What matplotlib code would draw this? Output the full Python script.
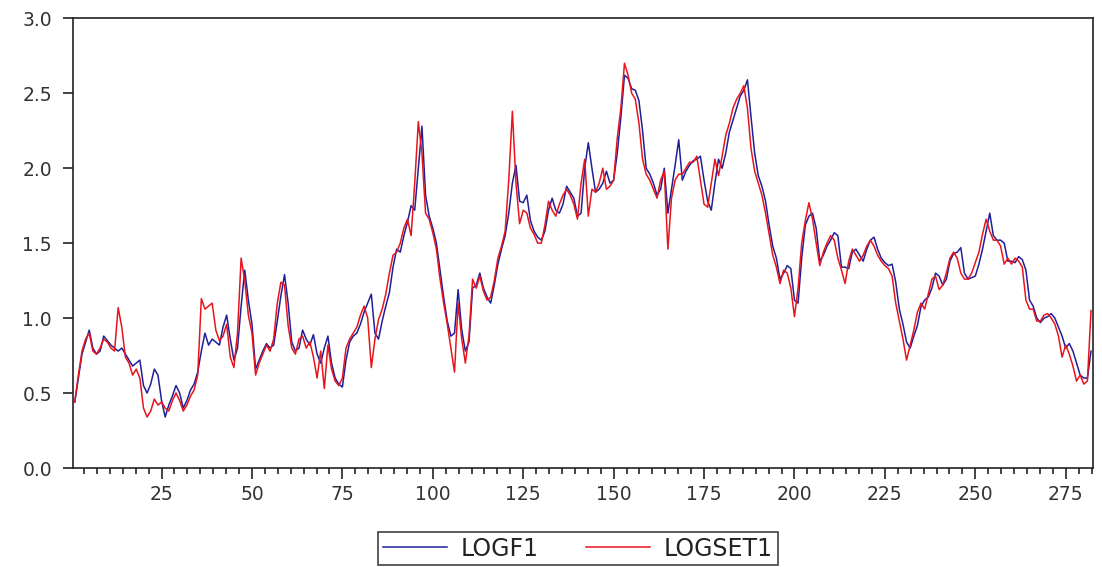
import matplotlib
matplotlib.use("Agg")
import matplotlib.pyplot as plt
from matplotlib.ticker import MultipleLocator, FixedLocator
import numpy as np

# ---- data ----
logf1 = [
    0.44, 0.60, 0.76, 0.84, 0.92, 0.80, 0.76, 0.78, 0.88, 0.85,
    0.82, 0.80, 0.78, 0.80, 0.76, 0.72, 0.68, 0.70, 0.72, 0.55,
    0.50, 0.56, 0.66, 0.62, 0.45, 0.34, 0.42, 0.48, 0.55, 0.50,
    0.40, 0.45, 0.52, 0.56, 0.64, 0.78, 0.90, 0.82, 0.86, 0.84,
    0.82, 0.94, 1.02, 0.86, 0.72, 0.80, 1.08, 1.32, 1.12, 0.96,
    0.66, 0.72, 0.78, 0.83, 0.80, 0.82, 0.98, 1.15, 1.29, 1.10,
    0.84, 0.78, 0.80, 0.92, 0.86, 0.82, 0.89, 0.76, 0.70, 0.80,
    0.88, 0.70, 0.60, 0.56, 0.54, 0.72, 0.84, 0.88, 0.90, 0.96,
    1.04, 1.10, 1.16, 0.90, 0.86, 0.98, 1.08, 1.17, 1.34, 1.46,
    1.44, 1.55, 1.64, 1.75, 1.72, 2.00, 2.28, 1.82, 1.68, 1.60,
    1.50, 1.32, 1.14, 0.98, 0.88, 0.90, 1.19, 0.92, 0.78, 0.84,
    1.20, 1.22, 1.30, 1.20, 1.14, 1.10, 1.22, 1.36, 1.46, 1.55,
    1.70, 1.90, 2.02, 1.78, 1.77, 1.82, 1.65, 1.58, 1.54, 1.52,
    1.58, 1.72, 1.80, 1.72, 1.70, 1.76, 1.88, 1.84, 1.80, 1.68,
    1.70, 2.00, 2.17, 2.00, 1.84, 1.86, 1.90, 1.98, 1.90, 1.92,
    2.10, 2.34, 2.62, 2.60, 2.53, 2.52, 2.45, 2.25, 2.00, 1.96,
    1.90, 1.82, 1.86, 2.00, 1.70, 1.86, 2.02, 2.19, 1.92, 1.98,
    2.02, 2.05, 2.06, 2.08, 1.92, 1.78, 1.72, 1.90, 2.06, 2.00,
    2.10, 2.24, 2.32, 2.40, 2.48, 2.52, 2.59, 2.34, 2.10, 1.95,
    1.88, 1.78, 1.62, 1.48, 1.40, 1.26, 1.30, 1.35, 1.33, 1.12,
    1.10, 1.40, 1.62, 1.68, 1.70, 1.60, 1.38, 1.42, 1.48, 1.52,
    1.57, 1.55, 1.34, 1.34, 1.33, 1.44, 1.46, 1.42, 1.38, 1.46,
    1.52, 1.54, 1.46, 1.40, 1.37, 1.35, 1.36, 1.24, 1.06, 0.96,
    0.84, 0.80, 0.88, 0.95, 1.08, 1.12, 1.14, 1.20, 1.30, 1.28,
    1.22, 1.26, 1.38, 1.43, 1.44, 1.47, 1.30, 1.26, 1.27, 1.28,
    1.36, 1.46, 1.58, 1.70, 1.55, 1.52, 1.52, 1.50, 1.38, 1.38,
    1.37, 1.41, 1.39, 1.32, 1.12, 1.08, 1.00, 0.97, 1.00, 1.01,
    1.03, 1.00, 0.94, 0.88, 0.80, 0.83, 0.78, 0.70, 0.62, 0.60,
    0.60, 0.78,
]
logset1 = [
    0.44, 0.62, 0.78, 0.86, 0.90, 0.78, 0.76, 0.80, 0.86, 0.84,
    0.80, 0.78, 1.07, 0.94, 0.74, 0.70, 0.62, 0.66, 0.60, 0.40,
    0.34, 0.38, 0.46, 0.42, 0.44, 0.40, 0.38, 0.45, 0.50, 0.45,
    0.38, 0.42, 0.48, 0.52, 0.62, 1.13, 1.06, 1.08, 1.10, 0.92,
    0.85, 0.88, 0.96, 0.74, 0.67, 0.90, 1.40, 1.25, 1.02, 0.90,
    0.62, 0.70, 0.76, 0.82, 0.78, 0.86, 1.10, 1.24, 1.22, 0.95,
    0.80, 0.76, 0.86, 0.88, 0.80, 0.84, 0.74, 0.60, 0.78, 0.53,
    0.82, 0.66, 0.58, 0.55, 0.60, 0.80, 0.86, 0.90, 0.94, 1.02,
    1.08, 1.00, 0.67, 0.86, 0.99, 1.06, 1.16, 1.30, 1.42, 1.44,
    1.50, 1.60, 1.66, 1.55, 1.90, 2.31, 2.10, 1.70, 1.66, 1.57,
    1.46, 1.26, 1.10, 0.96, 0.80, 0.64, 1.10, 0.86, 0.70, 0.88,
    1.26, 1.20, 1.28, 1.18, 1.12, 1.14, 1.25, 1.40, 1.48, 1.58,
    1.92, 2.38, 1.90, 1.63, 1.72, 1.70, 1.60, 1.56, 1.50, 1.50,
    1.62, 1.78, 1.72, 1.68, 1.76, 1.82, 1.86, 1.82, 1.76, 1.66,
    1.90, 2.06, 1.68, 1.86, 1.84, 1.90, 2.00, 1.86, 1.88, 1.92,
    2.20, 2.40, 2.70, 2.62, 2.50, 2.46, 2.30, 2.06, 1.96, 1.92,
    1.86, 1.80, 1.92, 1.98, 1.46, 1.80, 1.92, 1.96, 1.96, 2.00,
    2.04, 2.04, 2.08, 1.92, 1.76, 1.74, 1.90, 2.06, 1.95, 2.08,
    2.22, 2.30, 2.40, 2.46, 2.50, 2.55, 2.40, 2.13, 1.98, 1.90,
    1.82, 1.70, 1.56, 1.42, 1.34, 1.23, 1.32, 1.30, 1.20, 1.01,
    1.20, 1.50, 1.65, 1.77, 1.66, 1.50, 1.35, 1.44, 1.50, 1.55,
    1.52, 1.40, 1.32, 1.23, 1.38, 1.46, 1.42, 1.38, 1.42, 1.48,
    1.52, 1.48, 1.42, 1.38, 1.35, 1.33, 1.28, 1.10, 0.98, 0.86,
    0.72, 0.82, 0.92, 1.04, 1.10, 1.06, 1.16, 1.26, 1.28, 1.19,
    1.22, 1.30, 1.40, 1.44, 1.40, 1.30, 1.26, 1.26, 1.30, 1.37,
    1.44, 1.56, 1.66, 1.58, 1.52, 1.52, 1.48, 1.36, 1.40, 1.36,
    1.40, 1.38, 1.34, 1.12, 1.06, 1.06, 0.98, 0.98, 1.02, 1.03,
    1.00, 0.96, 0.88, 0.74, 0.82, 0.76, 0.68, 0.58, 0.62, 0.56,
    0.58, 1.05,
]
series_names = ["LOGF1", "LOGSET1"]
series_colors = ["#1f1f9a", "#e8141c"]
x_major_ticks = [25, 50, 75, 100, 125, 150, 175, 200, 225, 250, 275]
y_ticks = [0.0, 0.5, 1.0, 1.5, 2.0, 2.5, 3.0]

obs = np.arange(1, len(logf1) + 1)

plt.rcParams["font.family"] = ["DejaVu Sans"]
fig = plt.figure(figsize=(11.02, 5.67), dpi=100)
ax = fig.add_axes([0.0662, 0.1746, 0.9258, 0.7931])

ax.plot(obs, logf1, color=series_colors[0], lw=1.1, label=series_names[0])
ax.plot(obs, logset1, color=series_colors[1], lw=1.1, label=series_names[1])

ax.set_xlim(0.5, 282.6)
ax.set_ylim(0.0, 3.0)
ax.xaxis.set_major_locator(FixedLocator(x_major_ticks))
ax.xaxis.set_minor_locator(MultipleLocator(25 / 7))
ax.set_yticks(y_ticks)
ax.set_yticklabels([f"{v:.1f}" for v in y_ticks])

for s in ax.spines.values():
    s.set_color("#222222")
    s.set_linewidth(1.2)

ax.tick_params(axis="both", which="major", direction="out", colors="#222222",
               labelcolor="#333333", labelsize=13.5, width=1.2)
ax.tick_params(axis="y", length=7, pad=8)
ax.tick_params(axis="x", which="major", length=8, pad=4)
ax.tick_params(axis="x", which="minor", length=4, width=1.2, color="#222222")
ax.tick_params(axis="y", which="minor", left=False)

leg = fig.legend(loc="center", bbox_to_anchor=(0.5245, 0.0326), ncol=2,
                 frameon=True, fancybox=False, fontsize=17,
                 handlelength=2.7, handletextpad=0.6, columnspacing=2.0,
                 borderpad=0.2, borderaxespad=0.0, edgecolor="#111111")
leg.get_frame().set_linewidth(1.2)
for t in leg.get_texts():
    t.set_color("#222222")

fig.savefig("out.png", dpi=100, facecolor="white")
